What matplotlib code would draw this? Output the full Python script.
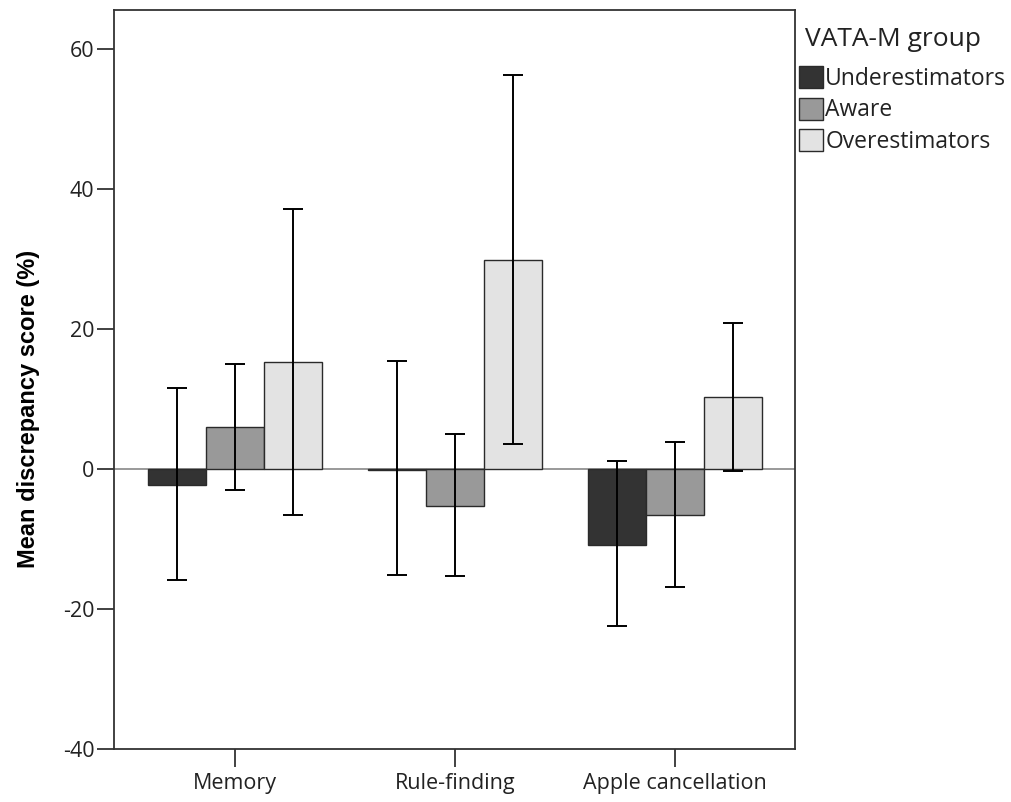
import matplotlib
matplotlib.use("Agg")
import matplotlib.pyplot as plt
from matplotlib.patches import Patch
import numpy as np

plt.rcParams["axes.unicode_minus"] = False

categories = ["Memory", "Rule-finding", "Apple cancellation"]
groups = ["Underestimators", "Aware", "Overestimators"]
colors = ["#333333", "#999999", "#e3e3e3"]

means_under = [-2.2, -0.1, -10.8]
means_aware = [6.0, -5.2, -6.6]
means_over = [15.3, 29.9, 10.3]

upper_under = [11.6, 15.4, 1.2]
lower_under = [-15.9, -15.1, -22.4]
upper_aware = [15.0, 5.0, 3.9]
lower_aware = [-3.0, -15.3, -16.9]
upper_over = [37.1, 56.3, 20.9]
lower_over = [-6.6, 3.6, -0.3]

means = [means_under, means_aware, means_over]
uppers = [upper_under, upper_aware, upper_over]
lowers = [lower_under, lower_aware, lower_over]

W, H = 1011, 802
fig = plt.figure(figsize=(W / 100, H / 100), dpi=100)
ax = fig.add_axes([0.1128, 0.066, 0.6736, 0.9215])

x = np.arange(len(categories))
w = 0.264
for i in range(3):
    pos = x + (i - 1) * w
    m = np.array(means[i])
    up = np.array(uppers[i]) - m
    lo = m - np.array(lowers[i])
    ax.bar(pos, m, width=w, color=colors[i], edgecolor="#2a2a2a", linewidth=1.0, zorder=2)
    ax.errorbar(pos, m, yerr=[lo, up], fmt="none", ecolor="black", elinewidth=1.4,
                capsize=7.5, capthick=1.4, zorder=3)

ax.axhline(0, color="#888888", linewidth=1.2, zorder=1)

ax.set_xlim(-0.55, 2.545)
ax.set_ylim(-40, 65.6)
ax.set_yticks([-40, -20, 0, 20, 40, 60])
ax.set_xticks(x)
ax.set_xticklabels(categories, fontsize=15.5, family="Open Sans", color="#222222")
for lab in ax.get_yticklabels():
    lab.set_fontsize(15.5)
    lab.set_family("Open Sans")
    lab.set_color("#222222")
ax.tick_params(axis="y", direction="out", length=12, width=1.3, color="#333333", pad=2)
ax.tick_params(axis="x", direction="out", length=13, width=1.3, color="#333333", pad=4)
for s in ax.spines.values():
    s.set_color("#333333")
    s.set_linewidth(1.3)

ax.set_ylabel("Mean discrepancy score (%)", fontsize=17, fontweight="bold",
              family="Liberation Sans")
ax.yaxis.set_label_coords(-0.109, 0.46)

fig.text(805 / W, 1 - 39 / H, "VATA-M group", fontsize=19, family="Open Sans",
         color="#222222", ha="left", va="center")

handles = [Patch(facecolor=c, edgecolor="#2a2a2a", linewidth=1.0) for c in colors]
leg = fig.legend(handles, groups, loc="upper left",
                 bbox_to_anchor=(799 / W, 1 - 66 / H), frameon=False,
                 prop={"family": "Open Sans", "size": 16.5},
                 handlelength=1.05, handleheight=1.1, handletextpad=0.1,
                 labelspacing=0.3, borderaxespad=0, borderpad=0)
for t in leg.get_texts():
    t.set_color("#222222")

fig.savefig("out.png", dpi=100)
